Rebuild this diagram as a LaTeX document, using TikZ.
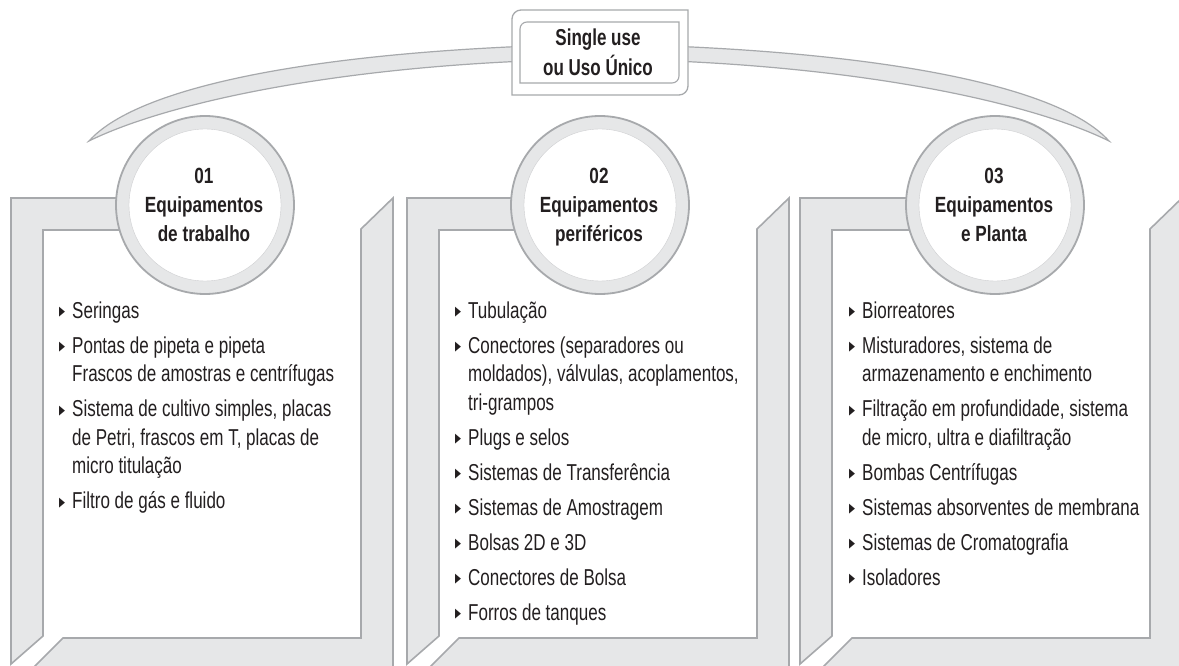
\documentclass[tikz,border=0pt]{standalone}
\usepackage{fontspec}
\newfontfamily\bodyfont[FakeStretch=0.74]{Liberation Sans}
\newfontfamily\headfont[FakeStretch=0.78]{Liberation Sans}
\newfontfamily\titlefont[FakeStretch=0.74]{Liberation Sans}
\newfontfamily\symfont[FakeStretch=0.6]{DejaVu Sans}
\definecolor{frame}{HTML}{E6E7E8}
\definecolor{edge}{HTML}{A7A9AC}
\definecolor{ink}{HTML}{231F20}
\tikzset{
  band/.style={fill=frame, draw=edge, line width=1.6pt, line join=miter},
  ringouter/.style={circle, minimum size=178pt, inner sep=0pt, fill=frame, draw=edge, line width=1.8pt},
  ringinner/.style={circle, minimum size=152pt, inner sep=0pt, fill=white, draw=frame!60!edge, line width=0.4pt},
  head/.style={font=\headfont\bfseries\fontsize{22}{29}\selectfont, align=center, inner sep=0pt, anchor=north, text=ink},
  body/.style={font=\bodyfont\fontsize{23}{28.5}\selectfont, align=left, inner sep=0pt, anchor=north west, text=ink},
  title/.style={font=\titlefont\bfseries\fontsize{23}{30}\selectfont, align=center, inner sep=0pt, anchor=north, text=ink},
}
\newcommand\bul{\makebox[13pt][l]{\raisebox{2.6pt}{\symfont\fontsize{13}{13}\selectfont ▶}}}
\newcommand\ind{\hspace*{13pt}}
% one folded frame: #1 = left edge, #2 = x of the circle centre
\newcommand\panelframe[2]{%
  \path[band] (#1,198) -- (#2,198) -- (#2,230) -- ({#1+32},230) -- ({#1+32},636) -- (#1,664) -- cycle;
  \path[band] ({#1+382},198) -- ({#1+382},700) -- ({#1-10},700) -- ({#1+52},638)
              -- ({#1+350},638) -- ({#1+350},229) -- cycle;
}
\begin{document}
\begin{tikzpicture}[x=1pt, y=-1pt]
  \useasboundingbox (0,0) rectangle (1179,666);
  \clip (0,0) rectangle (1179,666);
  \fill[white] (0,0) rectangle (1179,666);

  % crescent arc joining the three groups
  \path[band, line width=1.2pt] (89,141) .. controls (140,84) and (330,49) .. (600,44)
        .. controls (870,49) and (1058,84) .. (1109,141)
        .. controls (1030,102) and (850,62) .. (600,59)
        .. controls (350,62) and (168,102) .. (89,141) -- cycle;

  % frames
  \panelframe{11}{205}
  \panelframe{407}{600}
  \panelframe{800}{995}

  % central label box
  \path[fill=white, draw=edge, line width=1.3pt] (512,95) -- (512,19) arc[start angle=180, end angle=270, radius=9]
        -- (688,10) -- (688,86) arc[start angle=0, end angle=90, radius=9] -- cycle;
  \path[fill=white, draw=edge, line width=1.1pt] (520,83) -- (520,29) arc[start angle=180, end angle=270, radius=7]
        -- (679,22) -- (679,76) arc[start angle=0, end angle=90, radius=7] -- cycle;
  \node[title] (top) at (598,29) {Single use\\ou Uso Único};

  % circles with headings
  \node[ringouter] (c1) at (205,205) {};
  \node[ringinner] (w1) at (c1) {};
  \node[ringouter] (c2) at (600,205) {};
  \node[ringinner] (w2) at (c2) {};
  \node[ringouter] (c3) at (995,205) {};
  \node[ringinner] (w3) at (c3) {};
  \node[head] (h1) at (204,168) {01\\Equipamentos\\de trabalho};
  \node[head] (h2) at (599,168) {02\\Equipamentos\\periféricos};
  \node[head] (h3) at (994,168) {03\\Equipamentos\\e Planta};

  % item lists
  \node[body] (l1) at (59,301.5) {%
    \bul Seringas\\[6.5pt]
    \bul Pontas de pipeta e pipeta\\
    \ind Frascos de amostras e centrífugas\\[6.5pt]
    \bul Sistema de cultivo simples, placas\\
    \ind de Petri, frascos em T, placas de\\
    \ind micro titulação\\[6.5pt]
    \bul Filtro de gás e fluido};
  \node[body] (l2) at (455,301.5) {%
    \bul Tubulação\\[6.5pt]
    \bul Conectores (separadores ou\\
    \ind moldados), válvulas, acoplamentos,\\
    \ind tri-grampos\\[6.5pt]
    \bul Plugs e selos\\[6.5pt]
    \bul Sistemas de Transferência\\[6.5pt]
    \bul Sistemas de Amostragem\\[6.5pt]
    \bul Bolsas 2D e 3D\\[6.5pt]
    \bul Conectores de Bolsa\\[6.5pt]
    \bul Forros de tanques};
  \node[body] (l3) at (849,301.5) {%
    \bul Biorreatores\\[6.5pt]
    \bul Misturadores, sistema de\\
    \ind armazenamento e enchimento\\[6.5pt]
    \bul Filtração em profundidade, sistema\\
    \ind de micro, ultra e diafiltração\\[6.5pt]
    \bul Bombas Centrífugas\\[6.5pt]
    \bul Sistemas absorventes de membrana\\[6.5pt]
    \bul Sistemas de Cromatografia\\[6.5pt]
    \bul Isoladores};
\end{tikzpicture}
\end{document}
